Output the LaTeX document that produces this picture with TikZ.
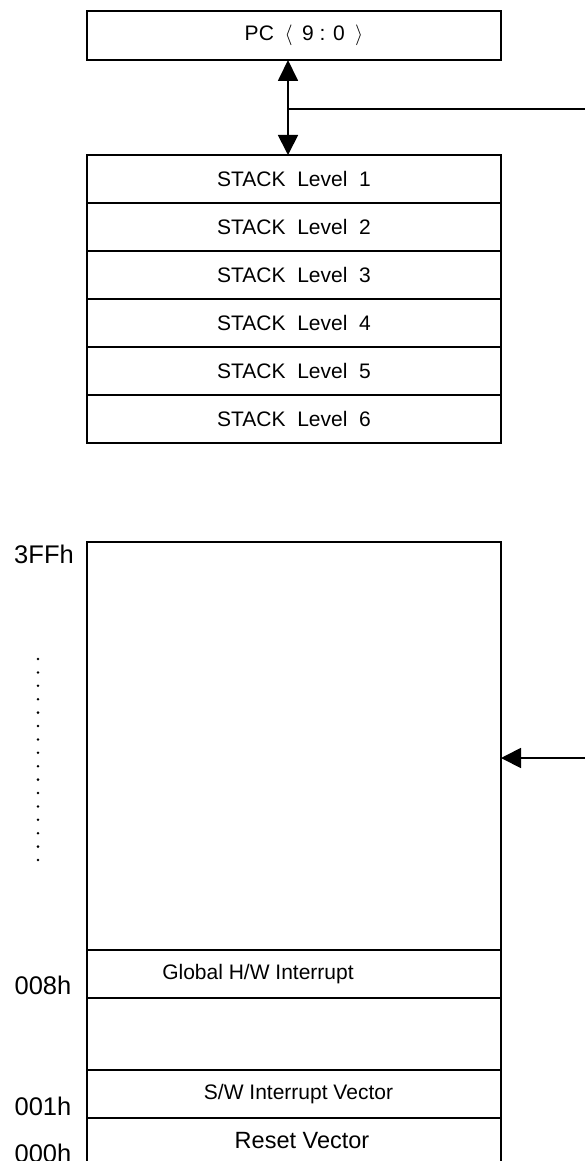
\documentclass[tikz,border=0pt]{standalone}
\usepackage{fontspec}
\setmainfont{Liberation Sans}
\usetikzlibrary{arrows.meta}
\begin{document}
\begin{tikzpicture}[x=1pt,y=-1pt,
  box/.style={draw, line width=1.8pt, minimum width=414pt, inner sep=0pt, outer sep=0pt, font=\fontsize{21}{25}\selectfont},
  txt/.style={inner sep=0pt, font=\fontsize{21}{25}\selectfont},
  addr/.style={inner sep=0pt, font=\fontsize{25.5}{30}\selectfont},
  conn/.style={line width=1.8pt},
  tipA/.style={-{Triangle[length=20pt,width=20pt]}}]
\useasboundingbox (0,0) rectangle (584,1161);
% PC register
\node[box, minimum height=49pt] (pc) at (294,35.5) {};
\node[txt] (pct) at (304,35.5) {PC\hspace{10.6pt}$\langle$\hspace{9.5pt}9 : 0\hspace{10.3pt}$\rangle$};
% stack
\foreach \i in {1,...,6}{
  \node[box, minimum height=48pt] (s\i) at (294,{179+48*(\i-1)}) {STACK\ \ Level\ \ \i};
}
% connectors at the top
\coordinate (j) at (288,109);
\coordinate (jr) at (590,109);
\draw[conn, {Triangle[length=21pt,width=20pt]}-{Triangle[length=20pt,width=20pt]}] (pc.south -| j) -- (s1.north -| j);
\draw[conn] (j) -- (jr);
% program memory
\node[box, minimum height=408pt] (mtop) at (294,746) {};
\node[box, minimum height=48pt] (glob) at (294,974) {};
\node[box, minimum height=72pt] (gap) at (294,1034) {};
\node[box, minimum height=48pt] (sw) at (294,1094) {};
\node[box, minimum height=80pt] (rst) at (294,1158) {};
\node[txt] (globt) at (258,974) {Global H/W Interrupt};
\node[txt] (swt) at (298.5,1094) {S/W Interrupt Vector};
\node[txt, font=\fontsize{23.5}{28}\selectfont] (rstt) at (302,1141) {Reset Vector};
% addresses
\node[addr] (a3ff) at (44,554) {3FFh};
\node[addr] (a008) at (43,985) {008h};
\node[addr] (a001) at (43,1106) {001h};
\node[addr] (a000) at (43,1153) {000h};
% dots
\foreach \i in {0,...,15}{
  \fill (38,{659+13.4*\i}) circle (1.4pt);
}
% incoming arrow
\coordinate (mr) at (590,758);
\draw[conn, tipA] (mr) -- (mr -| mtop.east);
\end{tikzpicture}
\end{document}
